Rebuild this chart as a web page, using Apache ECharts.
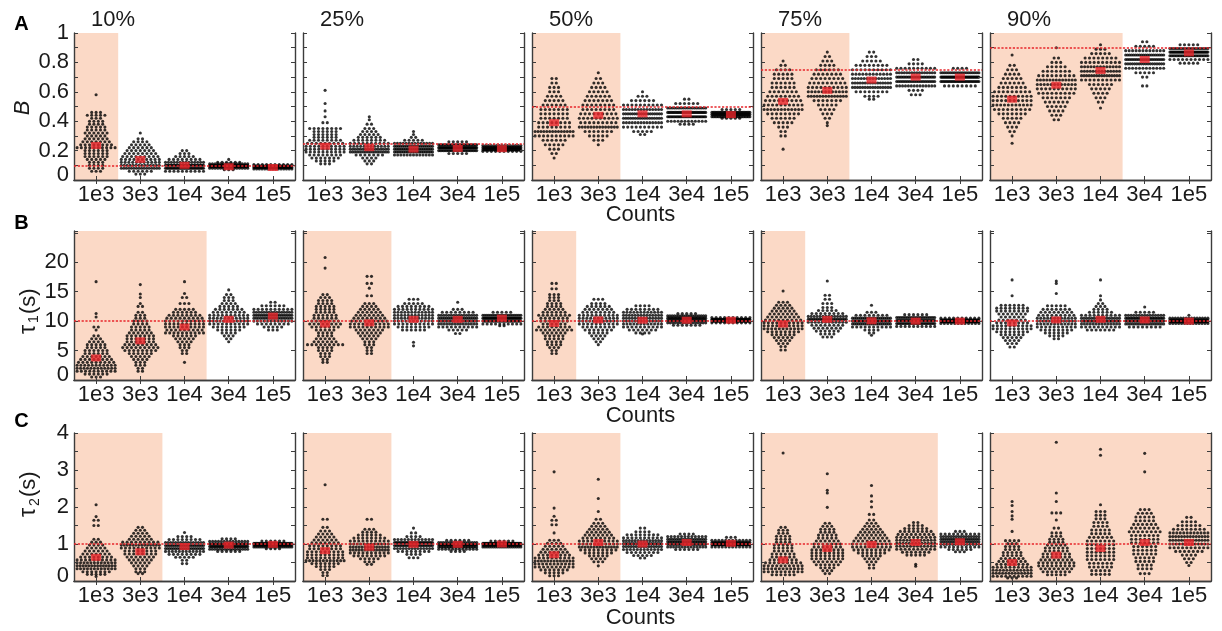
<!DOCTYPE html>
<html><head><meta charset="utf-8">
<script src="https://cdn.jsdelivr.net/npm/echarts@6/dist/echarts.min.js"></script>
<style>html,body{margin:0;padding:0;background:#fff}#c{width:1222px;height:631px}</style>
</head><body><div id="c"></div>
<script>
// ---------------- data ----------------
const CATS = ['1e3', '3e3', '1e4', '3e4', '1e5'];
const COL_TITLES = ['10%', '25%', '50%', '75%', '90%'];
const ROW_LETTERS = ['A', 'B', 'C'];

// Swarms: per column (10%..90%), per count category: flat [value, nDots, value, nDots, ...]
const A_SWARM = [
  [[0.58,1,0.46,3,0.44,5,0.42,3,0.40,4,0.38,4,0.36,5,0.34,5,0.32,6,0.30,5,0.28,6,0.26,7,0.24,8,0.22,10,0.20,6,0.18,6,0.16,6,0.14,5,0.12,4,0.10,4,0.08,4,0.06,3],
   [0.32,1,0.28,2,0.26,4,0.24,5,0.22,6,0.20,7,0.18,8,0.16,9,0.14,10,0.12,11,0.10,14,0.08,16,0.06,6,0.04,3],
   [0.20,2,0.18,3,0.16,5,0.14,8,0.12,14,0.10,30,0.08,28,0.06,10],
   [0.14,1,0.12,6,0.11,15,0.10,30,0.09,30,0.08,15,0.07,3],
   [0.105,10,0.095,35,0.085,40,0.075,15]],
  [[0.61,1,0.52,1,0.47,1,0.43,1,0.39,2,0.35,8,0.33,6,0.31,6,0.29,6,0.27,8,0.25,9,0.23,10,0.21,10,0.19,10,0.17,8,0.15,7,0.13,5,0.11,3],
   [0.43,1,0.41,1,0.38,2,0.35,3,0.33,4,0.31,5,0.29,6,0.27,8,0.25,10,0.23,12,0.21,16,0.19,18,0.17,7,0.15,4,0.13,3,0.11,2],
   [0.33,1,0.31,1,0.29,2,0.27,5,0.25,14,0.23,20,0.21,22,0.19,22,0.17,13],
   [0.26,5,0.24,25,0.22,40,0.20,25,0.18,5],
   [0.235,15,0.22,40,0.205,35,0.195,10]],
  [[0.69,2,0.66,2,0.63,3,0.60,3,0.57,4,0.54,5,0.51,6,0.48,7,0.45,7,0.42,7,0.39,8,0.36,8,0.33,14,0.30,10,0.27,6,0.24,5,0.21,3,0.18,2,0.15,1],
   [0.73,1,0.69,2,0.66,3,0.63,4,0.60,5,0.57,6,0.54,7,0.51,8,0.48,8,0.45,9,0.42,10,0.39,9,0.36,14,0.33,7,0.30,5,0.27,3,0.24,1],
   [0.60,1,0.57,3,0.54,6,0.51,10,0.48,14,0.45,18,0.42,17,0.39,14,0.36,10,0.33,5,0.31,2],
   [0.55,2,0.52,6,0.49,18,0.46,30,0.43,28,0.40,12,0.38,4],
   [0.48,5,0.46,30,0.445,35,0.43,25,0.42,5]],
  [[0.81,1,0.78,2,0.75,4,0.72,5,0.69,5,0.66,6,0.63,6,0.60,7,0.57,8,0.54,9,0.51,10,0.48,12,0.45,8,0.42,6,0.39,5,0.36,3,0.33,2,0.30,2,0.21,1],
   [0.87,1,0.84,2,0.81,3,0.78,4,0.75,6,0.72,7,0.69,8,0.66,9,0.63,10,0.60,12,0.57,14,0.54,7,0.51,5,0.48,4,0.45,3,0.42,2,0.39,1,0.37,1],
   [0.87,2,0.84,3,0.81,5,0.78,8,0.75,10,0.72,12,0.69,14,0.66,16,0.63,16,0.60,8,0.57,4,0.55,2],
   [0.82,2,0.79,4,0.76,10,0.73,16,0.70,24,0.67,22,0.64,14,0.61,4,0.58,3],
   [0.76,4,0.73,20,0.70,40,0.67,28,0.64,8]],
  [[0.85,1,0.78,2,0.75,3,0.72,4,0.69,5,0.66,6,0.63,7,0.60,9,0.57,10,0.54,10,0.51,11,0.48,9,0.45,7,0.42,5,0.39,4,0.36,3,0.33,2,0.30,1,0.25,1],
   [0.90,1,0.83,2,0.80,3,0.77,5,0.74,7,0.71,9,0.68,13,0.65,12,0.62,10,0.59,9,0.56,7,0.53,6,0.50,5,0.47,4,0.44,3,0.41,2],
   [0.92,1,0.89,3,0.86,5,0.83,8,0.80,10,0.77,13,0.74,14,0.71,16,0.68,10,0.65,6,0.62,5,0.59,4,0.56,3,0.53,2,0.49,1],
   [0.94,2,0.91,5,0.88,12,0.85,20,0.82,22,0.79,18,0.76,12,0.73,5,0.70,2,0.64,2],
   [0.92,5,0.895,20,0.87,35,0.845,25,0.82,10,0.795,5]]
];
const B_SWARM = [
  [[16.7,1,11.3,1,10.7,1,9,2,8.5,1,7.5,2,7,3,6.5,4,6,5,5.5,5,5,6,4.5,6,4,7,3.5,8,3,9,2.5,11,2,12,1.5,10,1,6,0.5,3],
   [16.2,1,14.6,1,14,1,13,1,12.5,2,11.5,2,11,3,10.5,3,10,4,9.5,4,9,5,8.5,5,8,6,7.5,7,7,7,6.5,7,6,8,5.5,9,5,8,4.5,6,4,5,3.5,4,3,3,2.5,3,2,2,1.5,2],
   [16.7,1,14.7,1,14,2,13,3,12,5,11.5,6,11,8,10.5,9,10,10,9.5,10,9,10,8.5,9,8,10,7.5,6,7,5,6.5,4,6,3,5.5,3,5,2,4.5,2,3,1],
   [15.3,1,14.5,2,14,3,13.5,3,13,4,12.5,5,12,7,11.5,8,11,10,10.5,11,10,12,9.5,10,9,8,8.5,6,8,4,7.5,3,7,2,6.5,1],
   [13.2,2,12.6,6,12,10,11.5,16,11,20,10.5,18,10,12,9.5,8,9,5,8.5,3]],
  [[20.8,1,19,1,14.5,2,14,3,13.5,4,13,4,12.5,5,12,5,11.5,5,11,6,10.5,6,10,7,9.5,8,9,7,8.5,5,8,4,7.5,4,7,5,6.5,6,6,9,5.5,4,5,4,4.5,3,4,3,3.5,2,3,2],
   [17.6,2,16.4,2,15.6,1,14.3,2,13,3,12.5,4,12,5,11.5,6,11,7,10.5,8,10,9,9.5,10,9,10,8.5,7,8,6,7.5,5,7,4,6.5,3,6,3,5.5,2,5,2,4.5,2],
   [13.7,3,13,5,12.5,8,12,10,11.5,12,11,12,10.5,12,10,11,9.5,10,9,8,8.5,6,6.4,1,5.8,1],
   [13.2,1,12,3,11.5,8,11,16,10.5,20,10,20,9.5,15,9,10,8.5,5,7.9,2],
   [11.5,5,11,20,10.5,35,10,28,9.5,10,9.2,2]],
  [[16.4,2,15.5,2,14.5,3,14,3,13.5,3,13,4,12.5,4,12,5,11.5,6,11,8,10.5,7,10,7,9.5,6,9,8,8.5,9,8,6,7.5,5,7,5,6.5,4,6,4,5.5,3,5,2,4.5,2],
   [13.7,3,13,4,12.5,6,12,7,11.5,8,11,10,10.5,11,10,12,9.5,10,9,8,8.5,7,8,5,7.5,4,7,3,6.5,2,6,1],
   [12.6,4,12,8,11.5,12,11,14,10.5,14,10,14,9.5,12,9,10,8.5,7,8,4,7.8,1],
   [11.3,5,10.9,18,10.5,28,10.1,26,9.7,16,9.3,7],
   [10.6,10,10.3,40,10.0,40,9.7,10]],
  [[15.1,1,13.2,3,12.7,4,12.2,5,11.7,6,11.2,7,10.7,8,10.2,9,9.7,10,9.2,10,8.7,11,8.2,8,7.7,6,7.2,5,6.7,4,6.2,3,5.7,2,5.1,2],
   [16.8,1,14.4,2,13.7,2,13,3,12.3,3,11.8,5,11.3,8,10.8,14,10.3,22,9.8,12,9.3,8,8.8,7,8.3,6,7.8,4,7.3,3],
   [12.7,1,11.5,3,11,8,10.5,20,10,30,9.5,20,9,10,8.5,4,8,2,7.6,1],
   [11.1,6,10.6,22,10.1,35,9.6,25,9.1,10],
   [10.5,10,10.2,38,9.9,38,9.6,12]],
  [[17,1,14.3,1,12.7,6,12.2,8,11.7,8,11.2,7,10.7,6,10.2,7,9.7,8,9.2,10,8.7,10,8.2,8,7.7,6,7.2,5,6.7,4,6.2,3,5.6,2],
   [16.8,1,16.4,1,14.7,1,12.6,5,12,7,11.5,8,11,9,10.5,12,10,14,9.5,12,9,10,8.5,8,8,6,7.5,4,7,2],
   [17,1,14.3,1,13.6,1,13,2,12.5,3,12,4,11.5,6,11,10,10.5,16,10,24,9.5,14,9,10,8.5,7],
   [12.4,1,11.5,5,11,15,10.5,25,10,28,9.5,18,9,8],
   [11,1,10.5,15,10.2,35,9.9,35,9.6,14]]
];
const C_SWARM = [
  [[2.06,1,1.74,1,1.64,2,1.5,2,1.13,2,1.05,3,0.97,4,0.89,5,0.81,6,0.73,7,0.65,8,0.57,10,0.49,12,0.41,14,0.33,12,0.25,7,0.18,5,0.12,1],
   [1.45,2,1.37,3,1.29,4,1.21,5,1.13,6,1.05,9,0.97,14,0.89,10,0.81,8,0.73,8,0.65,7,0.57,6,0.49,5,0.41,4,0.33,3,0.25,3,0.2,2],
   [1.31,1,1.2,4,1.12,8,1.04,16,0.96,22,0.88,20,0.8,12,0.72,8,0.64,5,0.56,2,0.47,2],
   [1.14,4,1.07,14,1.0,30,0.93,30,0.86,16,0.8,6],
   [1.08,6,1.02,30,0.97,40,0.92,20,0.87,4]],
  [[2.6,1,1.67,2,1.45,2,1.35,3,1.27,4,1.19,5,1.11,6,1.03,7,0.95,8,0.87,8,0.79,9,0.71,9,0.63,9,0.55,12,0.47,7,0.39,5,0.31,3,0.23,2,0.15,2],
   [1.67,2,1.4,3,1.32,4,1.24,6,1.16,8,1.08,10,1.0,12,0.92,14,0.84,14,0.76,10,0.68,8,0.6,5,0.52,3,0.45,2],
   [1.43,1,1.3,2,1.2,4,1.12,12,1.04,28,0.96,24,0.88,14,0.8,8,0.72,4,0.63,3],
   [1.1,6,1.04,18,0.98,35,0.92,25,0.86,12,0.8,4],
   [1.08,6,1.02,35,0.97,40,0.92,19]],
  [[2.95,1,1.97,1,1.75,1,1.64,2,1.52,2,1.3,1,1.1,3,1.02,4,0.94,5,0.86,6,0.78,7,0.7,8,0.62,10,0.54,13,0.46,11,0.38,10,0.3,7,0.22,5,0.14,3],
   [2.75,1,2.23,1,1.88,1,1.67,2,1.56,3,1.48,4,1.4,5,1.32,6,1.24,7,1.16,8,1.08,10,1.0,11,0.92,14,0.84,9,0.76,7,0.68,5,0.6,4,0.52,3,0.41,1],
   [1.43,2,1.33,4,1.25,8,1.17,10,1.09,14,1.01,20,0.93,16,0.85,12,0.77,8,0.69,5,0.62,2],
   [1.27,4,1.2,12,1.13,18,1.06,24,0.99,22,0.92,14,0.85,6],
   [1.18,3,1.1,12,1.04,35,0.98,38,0.92,12]],
  [[3.46,1,1.45,2,1.37,3,1.29,3,1.21,4,1.13,4,1.05,4,0.97,5,0.89,5,0.81,5,0.73,6,0.65,6,0.57,7,0.49,9,0.41,10,0.33,11,0.25,10,0.17,6],
   [2.9,1,2.45,1,2.38,1,1.99,1,1.56,2,1.48,3,1.4,4,1.32,4,1.24,5,1.16,5,1.08,6,1.0,7,0.92,7,0.84,8,0.76,8,0.68,8,0.6,8,0.52,7,0.44,6,0.36,4,0.28,3,0.2,2],
   [2.58,1,2.3,1,2.15,1,2.0,1,1.8,2,1.65,2,1.56,3,1.48,4,1.4,5,1.32,6,1.24,7,1.16,8,1.08,9,1.0,10,0.92,10,0.84,9,0.76,7,0.68,5,0.6,4,0.52,3,0.44,2,0.35,2],
   [1.58,2,1.5,4,1.42,6,1.34,8,1.26,9,1.18,10,1.1,12,1.02,13,0.94,12,0.86,10,0.78,7,0.7,5,0.45,1,0.4,1],
   [1.34,3,1.27,10,1.2,16,1.13,20,1.06,18,0.99,14,0.92,10,0.85,6,0.79,3]],
  [[2.15,1,2.04,1,1.88,1,1.76,1,1.67,1,1.34,1,1.09,4,1.01,3,0.93,4,0.85,4,0.77,5,0.69,5,0.61,6,0.53,7,0.45,8,0.37,10,0.29,12,0.21,13,0.13,10,0.08,3],
   [3.75,1,2.38,1,2.15,1,1.84,3,1.65,1,1.43,2,1.3,3,1.21,3,1.13,4,1.05,4,0.97,5,0.89,6,0.81,6,0.73,7,0.65,7,0.57,8,0.49,9,0.41,9,0.33,8,0.25,7,0.17,5],
   [3.56,1,3.4,1,2.06,1,1.88,3,1.78,3,1.68,3,1.58,4,1.48,4,1.38,5,1.28,5,1.18,6,1.08,7,0.98,7,0.88,7,0.78,7,0.68,7,0.58,7,0.48,6,0.38,6,0.28,5,0.18,5],
   [3.45,1,2.95,1,1.93,3,1.83,4,1.73,5,1.63,5,1.53,6,1.43,7,1.33,8,1.23,7,1.13,7,1.03,7,0.93,6,0.83,6,0.73,6,0.63,5,0.53,5,0.43,4,0.33,4,0.2,3],
   [1.72,2,1.6,4,1.5,6,1.4,8,1.3,12,1.2,14,1.1,14,1.0,13,0.9,10,0.8,7,0.7,4,0.6,3,0.5,2,0.42,1]]
];

// Means (red markers), per column, per category
const A_MEAN = [[0.235,0.14,0.10,0.09,0.085],[0.23,0.22,0.21,0.215,0.213],[0.39,0.44,0.45,0.45,0.445],[0.535,0.61,0.68,0.70,0.70],[0.55,0.645,0.745,0.82,0.865]];
const B_MEAN = [[3.75,6.65,9.0,10.3,10.85],[9.5,9.7,10.3,10.3,10.5],[9.6,10.2,10.15,10.15,10.15],[9.5,10.3,10.05,10.0,10.0],[9.7,10.2,10.3,10.2,10.0]];
const C_MEAN = [[0.64,0.79,0.93,0.97,0.99],[0.82,0.91,0.99,0.99,1.0],[0.71,1.04,1.0,1.04,1.02],[0.57,0.88,0.99,1.04,1.06],[0.5,0.7,0.88,1.04,1.04]];

// True values (red dotted lines)
const A_TRUE = [0.1, 0.25, 0.5, 0.75, 0.9];
const B_TRUE = [10, 10, 10, 10, 10];
const C_TRUE = [1, 1, 1, 1, 1];

// Number of leading categories shaded in each panel
const A_SHADE = [1, 0, 2, 2, 3];
const B_SHADE = [3, 2, 1, 1, 0];
const C_SHADE = [2, 2, 2, 4, 5];

// ---------------- layout / style ----------------
const FONT = "'Liberation Sans', Arial, Helvetica, sans-serif";
const TEXT = '#1a1a1a';
const AXIS_COLOR = '#3c3c3c';
const SHADE_COLOR = '#fbd9c6';
const RED = '#e8262b';
const DOT_COLOR = '#000000';
const DOT_SIZE = 3.1;
const PLOT_LEFT0 = 74, COL_STEP = 229, PLOT_W = 221;
const ROW_TOP = [33, 231, 433], ROW_H = [147, 149, 148];
const PX_PER_CAT = PLOT_W / CATS.length;
const DOT_GAP = 4.4, MAX_ROW = 38;

function makeFmt(step, every, maxLabel) {
  return function (v) {
    const k = Math.round(v / step);
    if (Math.abs(v - k * step) > 1e-6 || k % every !== 0 || v > maxLabel + 1e-9) return '';
    const s = String(+(k * step).toFixed(2));
    return k === 0 ? '{z|' + s + '}' : s;
  };
}

const ROWS = [
  {swarm: A_SWARM, mean: A_MEAN, truth: A_TRUE, shade: A_SHADE, min: 0, max: 1, interval: 0.1, fmt: makeFmt(0.1, 2, 1)},
  {swarm: B_SWARM, mean: B_MEAN, truth: B_TRUE, shade: B_SHADE, min: 0, max: 25.3, interval: 5, fmt: makeFmt(5, 1, 20)},
  {swarm: C_SWARM, mean: C_MEAN, truth: C_TRUE, shade: C_SHADE, min: 0, max: 4, interval: 0.5, fmt: makeFmt(0.5, 2, 4)}
];

function swarmPoints(flat, catIdx) {
  const pts = [];
  for (let k = 0; k < flat.length; k += 2) {
    const v = flat[k], n = flat[k + 1];
    const gap = n > 1 ? Math.min(DOT_GAP, MAX_ROW / (n - 1)) : 0;
    for (let i = 0; i < n; i++) {
      pts.push([catIdx + 1 + (i - (n - 1) / 2) * gap / PX_PER_CAT, v]);
    }
  }
  return pts;
}

const grids = [], xAxes = [], yAxes = [], series = [];
const axisLine = {show: true, lineStyle: {color: AXIS_COLOR, width: 1.4}};
const tick = {show: true, inside: true, length: 4, lineStyle: {color: AXIS_COLOR, width: 1}};

ROWS.forEach(function (row, r) {
  for (let c = 0; c < COL_TITLES.length; c++) {
    const g = grids.length;
    grids.push({left: PLOT_LEFT0 + c * COL_STEP, top: ROW_TOP[r], width: PLOT_W, height: ROW_H[r]});
    xAxes.push({gridIndex: g, type: 'category', position: 'bottom', data: CATS, boundaryGap: true, z: 3,
      axisLine: axisLine, axisTick: Object.assign({alignWithLabel: true}, tick),
      axisLabel: {fontSize: 22, color: TEXT, fontFamily: FONT, margin: 4, interval: 0}, splitLine: {show: false}});
    xAxes.push({gridIndex: g, type: 'category', position: 'top', data: CATS, boundaryGap: true, z: 3,
      axisLine: axisLine, axisTick: Object.assign({alignWithLabel: true}, tick),
      axisLabel: {show: false}, splitLine: {show: false}});
    xAxes.push({gridIndex: g, type: 'value', min: 0.5, max: CATS.length + 0.5, show: false});
    yAxes.push({gridIndex: g, type: 'value', position: 'left', min: row.min, max: row.max, interval: row.interval, z: 3,
      axisLine: axisLine, axisTick: tick,
      axisLabel: {show: c === 0, formatter: row.fmt, fontSize: 22, color: TEXT, fontFamily: FONT, margin: 5, showMaxLabel: true, showMinLabel: true,
        rich: {z: {fontSize: 22, color: TEXT, fontFamily: FONT, padding: [0, 0, 10, 0]}}},
      splitLine: {show: false}});
    yAxes.push({gridIndex: g, type: 'value', position: 'right', min: row.min, max: row.max, interval: row.interval, z: 3,
      axisLine: axisLine, axisTick: tick, axisLabel: {show: false}, splitLine: {show: false}});

    let pts = [];
    row.swarm[c].forEach(function (flat, i) { pts = pts.concat(swarmPoints(flat, i)); });
    const s = {
      type: 'scatter', xAxisIndex: 3 * g + 2, yAxisIndex: 2 * g, data: pts, symbolSize: DOT_SIZE,
      itemStyle: {color: DOT_COLOR}, silent: true, z: 2, animation: false,
      markLine: {silent: true, symbol: ['none', 'none'], label: {show: false}, animation: false,
        lineStyle: {color: RED, type: [2.2, 1.6], width: 1.5}, emphasis: {disabled: true},
        data: [{yAxis: row.truth[c]}]}
    };
    if (row.shade[c] > 0) {
      s.markArea = {silent: true, animation: false, itemStyle: {color: SHADE_COLOR},
        data: [[{xAxis: 0.5}, {xAxis: row.shade[c] + 0.5}]]};
    }
    series.push(s);
    series.push({type: 'scatter', xAxisIndex: 3 * g + 2, yAxisIndex: 2 * g, symbol: 'rect', symbolSize: [10, 7],
      data: row.mean[c].map(function (m, i) { return [i + 1, m]; }),
      itemStyle: {color: RED}, z: 6, silent: true, animation: false});
  }
});

const graphic = [];
ROW_LETTERS.forEach(function (L, r) {
  graphic.push({type: 'text', x: 21.5, y: [24, 223, 421][r], style: {text: L, fontSize: 20, fontWeight: 'bold', fontFamily: FONT, fill: '#000', align: 'center', verticalAlign: 'middle'}});
});
COL_TITLES.forEach(function (t, c) {
  graphic.push({type: 'text', x: PLOT_LEFT0 + c * COL_STEP + 39, y: 20, style: {text: t, fontSize: 22, fontFamily: FONT, fill: TEXT, align: 'center', verticalAlign: 'middle'}});
});
[215, 416, 618].forEach(function (y) {
  graphic.push({type: 'text', x: PLOT_LEFT0 + 2 * COL_STEP + PLOT_W / 2 - 2, y: y, style: {text: 'Counts', fontSize: 22, fontFamily: FONT, fill: TEXT, align: 'center', verticalAlign: 'middle'}});
});
// y-axis names
graphic.push({type: 'text', x: 23, y: 108, rotation: Math.PI / 2, style: {text: 'B', fontSize: 22, fontStyle: 'italic', fontFamily: FONT, fill: TEXT, align: 'center', verticalAlign: 'middle'}});
function tauLabel(x, y, sub, offs) {
  return {type: 'group', x: x, y: y, rotation: Math.PI / 2, children: [
    {type: 'text', x: offs[0], y: 0, style: {text: 'τ', fontSize: 23, fontFamily: FONT, fill: TEXT, align: 'left', verticalAlign: 'middle'}},
    {type: 'text', x: offs[1], y: 6, style: {text: sub, fontSize: 14, fontFamily: FONT, fill: TEXT, align: 'left', verticalAlign: 'middle'}},
    {type: 'text', x: offs[2], y: 0, style: {text: '(s)', fontSize: 22, fontFamily: FONT, fill: TEXT, align: 'left', verticalAlign: 'middle'}}
  ]};
}
graphic.push(tauLabel(28.5, 309, '1', [-25, -14, -5]));
graphic.push(tauLabel(29, 492, '2', [-25, -14, -5]));

const chart = echarts.init(document.getElementById('c'), null, {renderer: 'canvas'});
chart.setOption({
  animation: false,
  backgroundColor: '#ffffff',
  grid: grids, xAxis: xAxes, yAxis: yAxes, series: series, graphic: graphic
});
</script>
</body></html>
